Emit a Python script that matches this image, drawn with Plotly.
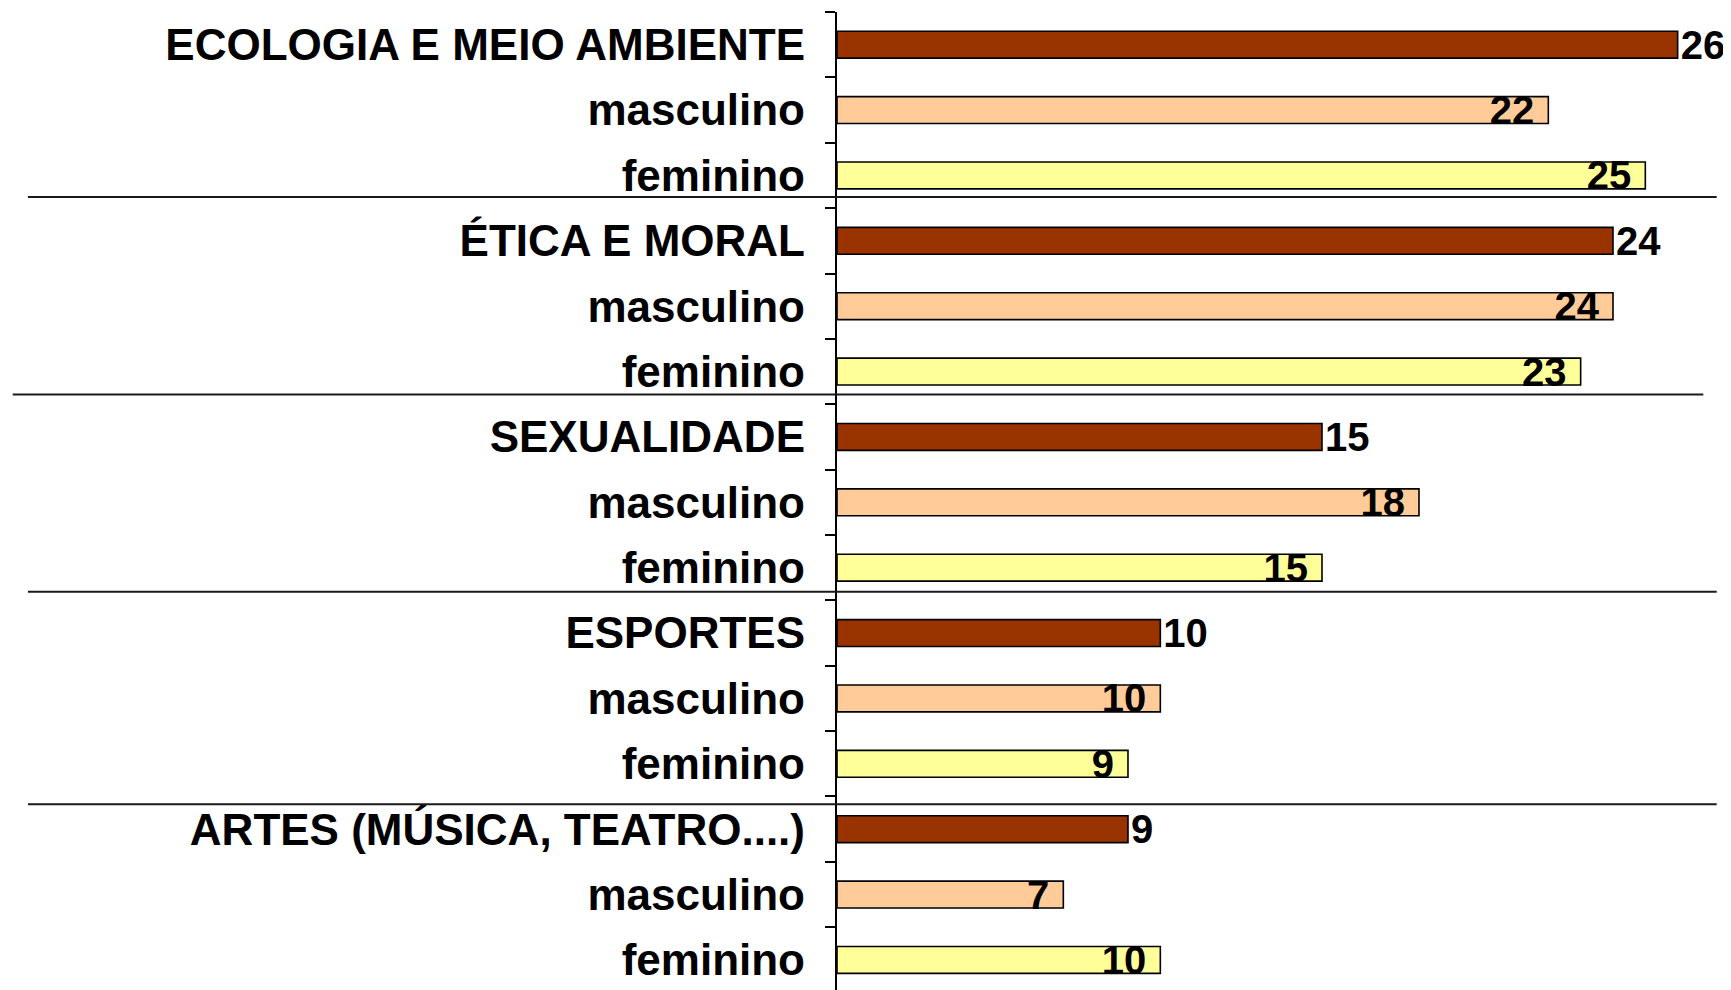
import plotly.graph_objects as go

# ---- data ----
topics = ["ECOLOGIA E MEIO AMBIENTE", "ÉTICA E MORAL", "SEXUALIDADE", "ESPORTES",
          "ARTES (MÚSICA, TEATRO....)"]
total = [26, 24, 15, 10, 9]
masculino = [22, 24, 18, 10, 7]
feminino = [25, 23, 15, 9, 10]
sub_labels = ["masculino", "feminino"]

# ---- style ----
FONT = "Liberation Sans, Arial, sans-serif"
C_TOTAL = "#993300"
C_MASC = "#FFCC99"
C_FEM = "#FFFF99"
BAR_W = 0.41

n = len(topics)
y_total = [3 * i for i in range(n)]
y_masc = [3 * i + 1 for i in range(n)]
y_fem = [3 * i + 2 for i in range(n)]

tickvals, ticktext = [], []
for i, t in enumerate(topics):
    tickvals += [3 * i, 3 * i + 1, 3 * i + 2]
    ticktext += [t] + sub_labels

nrows = 3 * n
yrange = [nrows - 0.54, -0.5]

valfont = dict(family=FONT, size=40, color="black", weight="bold")

fig = go.Figure()
fig.add_trace(go.Bar(
    x=total, y=y_total, orientation="h", width=BAR_W,
    marker=dict(color=C_TOTAL, line=dict(color="black", width=1.6)),
    text=[str(v) for v in total], textposition="outside", textangle=0,
    textfont=valfont, constraintext="none", cliponaxis=False, yaxis="y",
    showlegend=False,
))
fig.add_trace(go.Bar(
    x=masculino, y=y_masc, orientation="h", width=BAR_W,
    marker=dict(color=C_MASC, line=dict(color="black", width=1.6)),
    text=[str(v) + "\u00a0" for v in masculino], textposition="inside", textangle=0,
    insidetextanchor="end", textfont=valfont, constraintext="none",
    cliponaxis=False, yaxis="y", showlegend=False,
))
fig.add_trace(go.Bar(
    x=feminino, y=y_fem, orientation="h", width=BAR_W,
    marker=dict(color=C_FEM, line=dict(color="black", width=1.6)),
    text=[str(v) + "\u00a0" for v in feminino], textposition="inside", textangle=0,
    insidetextanchor="end", textfont=valfont, constraintext="none",
    cliponaxis=False, yaxis="y", showlegend=False,
))

# group separator lines (slightly offset from the category boundaries as in original)
sep_offsets = [-0.17, -0.15, -0.13, 0.12]
sep_x0 = [-0.905, -0.922, -0.905, -0.905]
sep_x1 = [0.984, 0.969, 0.984, 0.984]
for k in range(n - 1):
    yb = 3 * (k + 1) - 0.5 + sep_offsets[k]
    fig.add_shape(type="line", xref="paper", yref="y", x0=sep_x0[k], x1=sep_x1[k],
                  y0=yb, y1=yb, line=dict(color="#1a1a1a", width=2), layer="above")

fig.update_layout(
    width=1723, height=982, autosize=False,
    margin=dict(l=829, r=0, t=4, b=0, autoexpand=False),
    paper_bgcolor="white", plot_bgcolor="white",
    barmode="overlay", showlegend=False,
    uniformtext=dict(minsize=40, mode="show"),
    xaxis=dict(range=[0, 27.65], showgrid=False, zeroline=False, automargin=False,
               showticklabels=False, showline=False, ticks=""),
    yaxis=dict(range=yrange, tickvals=tickvals, ticktext=ticktext, automargin=False,
               ticks="", showgrid=False, zeroline=False, showline=False,
               ticklabelstandoff=31,
               tickfont=dict(family=FONT, size=44, color="black", weight="bold")),
    yaxis2=dict(range=yrange, overlaying="y", side="left", anchor="x", automargin=False,
                tickvals=[i - 0.5 for i in range(nrows + 1)],
                ticks="outside", ticklen=10, tickwidth=1.5, tickcolor="black",
                showticklabels=False, showgrid=False, zeroline=False,
                showline=True, linecolor="black", linewidth=1.5),
)
# invisible trace to activate yaxis2
fig.add_trace(go.Scatter(x=[0], y=[0], yaxis="y2", mode="markers",
                         marker=dict(opacity=0), hoverinfo="skip", showlegend=False))

fig.write_html("out.html")
